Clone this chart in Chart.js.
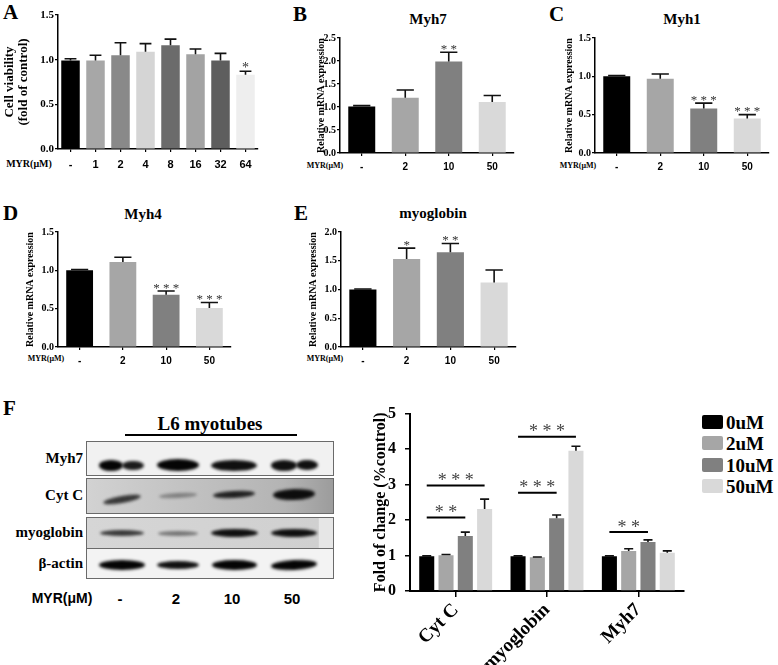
<!DOCTYPE html>
<html>
<head>
<meta charset="utf-8">
<script src="https://cdn.jsdelivr.net/npm/chart.js@4.4.1/dist/chart.umd.min.js"></script>
<style>
    html, body { margin: 0; padding: 0; background: #fff; }
    #lienzo { position: relative; width: 778px; height: 665px; overflow: hidden; background: #fff; }
    canvas { position: absolute; }
    .t { position: absolute; transform: translate(-50%, -50%); white-space: nowrap; font-family: 'Liberation Serif', serif; font-weight: bold; color: #000; line-height: 1; }
    .d { transform: translate(-100%, -50%); }
    .s { font-family: 'Liberation Sans', Arial, sans-serif; }
    .letra { font-size: 21px; transform: none; }
    .fila { position: absolute; left: 86px; width: 246px; border: 1px solid #6a6a6a; overflow: hidden; }
    .banda { position: absolute; border-radius: 50%; background: #050505; filter: blur(1.5px); }
    .leyenda { position: absolute; left: 702px; width: 21px; height: 14px; border-radius: 2px; }
</style>
</head>
<body>
<div id="lienzo">
    <!-- Letras de cada panel -->
    <div class="t letra" style="left:3px; top:2px;">A</div>
    <div class="t letra" style="left:293px; top:4px;">B</div>
    <div class="t letra" style="left:549px; top:4px;">C</div>
    <div class="t letra" style="left:3px; top:203px;">D</div>
    <div class="t letra" style="left:294px; top:203px;">E</div>
    <div class="t letra" style="left:3px; top:398px;">F</div>

    <!-- Títulos de los paneles -->
    <div class="t" style="left:428px; top:19px; font-size:15px;">Myh7</div>
    <div class="t" style="left:682px; top:19px; font-size:15px;">Myh1</div>
    <div class="t" style="left:143px; top:214px; font-size:15px;">Myh4</div>
    <div class="t" style="left:433px; top:213px; font-size:15px;">myoglobin</div>

    <!-- Etiquetas MYR(μM) de los ejes -->
    <div class="t" style="left:29px; top:164px; font-size:10px;">MYR(μM)</div>
    <div class="t" style="left:325px; top:166px; font-size:8px;">MYR(μM)</div>
    <div class="t" style="left:578px; top:166px; font-size:8px;">MYR(μM)</div>
    <div class="t" style="left:46px; top:359px; font-size:8px;">MYR(μM)</div>
    <div class="t" style="left:325px; top:359px; font-size:8px;">MYR(μM)</div>

    <!-- Western blot -->
    <div class="t" style="left:210px; top:423px; font-size:19px;">L6 myotubes</div>
    <div style="position:absolute; left:125px; top:434px; width:172px; height:2px; background:#000;"></div>
    <div id="blot"></div>

    <canvas id="cA" width="262" height="180" style="left:0px; top:0px;"></canvas>
    <canvas id="cB" width="200" height="180" style="left:316px; top:0px;"></canvas>
    <canvas id="cC" width="214" height="180" style="left:564px; top:0px;"></canvas>
    <canvas id="cD" width="209" height="175" style="left:25px; top:200px;"></canvas>
    <canvas id="cE" width="215" height="175" style="left:308px; top:200px;"></canvas>
    <canvas id="cF" width="320" height="270" style="left:370px; top:395px;"></canvas>
    <div id="leyendaF"></div>
</div>

<script>
// Fuentes usadas en la figura.
const SERIF = "'Liberation Serif', 'Times New Roman', serif";
const SANS = "'Liberation Sans', Arial, sans-serif";

// Datos del panel A (viabilidad celular).
const DOSIS_A = ['-', '1', '2', '4', '8', '16', '32', '64'];
const VIABILIDAD = [0.99, 0.99, 1.05, 1.09, 1.16, 1.06, 0.99, 0.83];
const VIABILIDAD_ERR = [0.02, 0.06, 0.14, 0.09, 0.07, 0.06, 0.08, 0.04];
const VIABILIDAD_SIG = ['', '', '', '', '', '', '', '*'];

// Datos de los paneles B a E (expresión relativa de ARNm).
const DOSIS = ['-', '2', '10', '50'];
const MYH7 = [1.01, 1.20, 1.99, 1.11];
const MYH7_ERR = [0.02, 0.17, 0.20, 0.14];
const MYH7_SIG = ['', '', '**', ''];
const MYH1 = [1.00, 0.97, 0.58, 0.45];
const MYH1_ERR = [0.01, 0.06, 0.07, 0.05];
const MYH1_SIG = ['', '', '***', '***'];
const MYH4 = [1.00, 1.11, 0.68, 0.51];
const MYH4_ERR = [0.01, 0.06, 0.05, 0.07];
const MYH4_SIG = ['', '', '***', '***'];
const MIOGLOBINA = [1.00, 1.53, 1.65, 1.12];
const MIOGLOBINA_ERR = [0.01, 0.19, 0.15, 0.22];
const MIOGLOBINA_SIG = ['', '*', '**', ''];

// Datos del panel F (cuantificación del western blot).
const PROTEINAS = ['Cyt C', 'myoglobin', 'Myh7'];
const GRUPOS = ['0uM', '2uM', '10uM', '50uM'];
const F_0 = [0.98, 0.98, 0.98];
const F_0_ERR = [0.01, 0.01, 0.01];
const F_2 = [1.01, 0.95, 1.13];
const F_2_ERR = [0.02, 0.01, 0.06];
const F_10 = [1.55, 2.05, 1.38];
const F_10_ERR = [0.11, 0.09, 0.06];
const F_50 = [2.31, 3.95, 1.08];
const F_50_ERR = [0.28, 0.13, 0.05];
// Comparaciones significativas: categoría, barra inicial, barra final, altura y texto.
const SIG_F_CAT = [0, 0, 1, 1, 2];
const SIG_F_DESDE = [0, 0, 0, 0, 0];
const SIG_F_HASTA = [2, 3, 2, 3, 2];
const SIG_F_NIVEL = [2.07, 2.97, 2.77, 4.35, 1.66];
const SIG_F_TEXTO = ['**', '***', '***', '***', '**'];

// Colores de las barras.
const COLORES_A = ['#000000', '#a7a7a7', '#898989', '#d5d5d5', '#6b6b6b', '#a3a3a3', '#5e5e5e', '#eeeeee'];
const COLORES = ['#000000', '#a6a6a6', '#808080', '#d9d9d9'];

// Complemento para dibujar las barras de error (solo hacia arriba) y los asteriscos.
const barrasError = {
    id: 'barrasError',
    afterDatasetsDraw(chart, args, opts) {
        const ctx = chart.ctx;
        const y = chart.scales.y;
        ctx.save();
        chart.data.datasets.forEach((ds, i) => {
            chart.getDatasetMeta(i).data.forEach((barra, j) => {
                const base = y.getPixelForValue(ds.data[j]);
                const tope = y.getPixelForValue(ds.data[j] + ds.errores[j]);
                const medio = barra.width * opts.tapa;
                ctx.strokeStyle = '#111';
                ctx.lineWidth = 1.6;
                ctx.beginPath();
                ctx.moveTo(barra.x, base);
                ctx.lineTo(barra.x, tope);
                ctx.moveTo(barra.x - medio, tope);
                ctx.lineTo(barra.x + medio, tope);
                ctx.stroke();
                if (ds.sig && ds.sig[j]) {
                    ctx.fillStyle = '#333';
                    ctx.font = `${opts.estrella}px ${SERIF}`;
                    ctx.textAlign = 'center';
                    ctx.textBaseline = 'middle';
                    ctx.fillText(ds.sig[j].split('').join(' '), barra.x, tope - opts.estrella * 0.2);
                }
            });
        });
        ctx.restore();
    }
};

// Complemento para las líneas de comparación del panel F.
const lineasSig = {
    id: 'lineasSig',
    afterDatasetsDraw(chart) {
        const ctx = chart.ctx;
        const y = chart.scales.y;
        ctx.save();
        SIG_F_CAT.forEach((cat, k) => {
            const x1 = chart.getDatasetMeta(SIG_F_DESDE[k]).data[cat].x;
            const x2 = chart.getDatasetMeta(SIG_F_HASTA[k]).data[cat].x;
            const yy = y.getPixelForValue(SIG_F_NIVEL[k]);
            ctx.strokeStyle = '#000';
            ctx.lineWidth = 2;
            ctx.beginPath();
            ctx.moveTo(x1, yy);
            ctx.lineTo(x2, yy);
            ctx.stroke();
            ctx.fillStyle = '#444';
            ctx.font = `18px ${SERIF}`;
            ctx.textAlign = 'center';
            ctx.textBaseline = 'middle';
            ctx.fillText(SIG_F_TEXTO[k].split('').join(' '), (x1 + x2) / 2, yy - 4);
        });
        ctx.restore();
    }
};

// Función para crear un gráfico de barras simple (paneles A a E).
const barraSimple = (id, etiquetas, valores, errores, sig, colores, cfg) => new Chart(document.getElementById(id), {
    type: 'bar',
    data: {
        labels: etiquetas,
        datasets: [{
            data: valores,
            errores: errores,
            sig: sig,
            backgroundColor: colores,
            barPercentage: cfg.bp,
            categoryPercentage: 1
        }]
    },
    options: {
        responsive: false,
        animation: false,
        events: [],
        layout: { padding: { top: cfg.top, right: cfg.right, left: 0, bottom: 0 } },
        plugins: {
            legend: { display: false },
            tooltip: { enabled: false },
            barrasError: { tapa: 0.32, estrella: cfg.estrella }
        },
        scales: {
            x: {
                grid: { display: true, drawOnChartArea: false, drawTicks: true, tickLength: 3, offset: false, color: '#000', lineWidth: 1.2 },
                border: { color: '#000', width: 1.5 },
                ticks: { color: '#000', font: { family: SANS, weight: 'bold', size: cfg.xFuente }, padding: cfg.xPad, maxRotation: 0, minRotation: 0, autoSkip: false },
                afterFit: s => { s.height = cfg.xAlto; }
            },
            y: {
                min: 0,
                max: cfg.max,
                ticks: {
                    stepSize: cfg.paso,
                    color: '#000',
                    padding: 1,
                    font: { family: SERIF, weight: 'bold', size: cfg.yFuente },
                    callback: v => v.toFixed(1)
                },
                grid: { drawOnChartArea: false, drawTicks: true, tickLength: 3, color: '#000', lineWidth: 1.2 },
                border: { color: '#000', width: 1.5 },
                title: {
                    display: true,
                    text: cfg.titulo,
                    color: '#000',
                    padding: { top: cfg.tPad, bottom: 0 },
                    font: { family: SERIF, weight: 'bold', size: cfg.tFuente, lineHeight: 1.1 }
                },
                afterFit: s => { s.width = cfg.yAncho; }
            }
        }
    },
    plugins: [barrasError]
});

// Panel A.
barraSimple('cA', DOSIS_A, VIABILIDAD, VIABILIDAD_ERR, VIABILIDAD_SIG, COLORES_A, {
    top: 15, right: 4, yAncho: 58, xAlto: 31, max: 1.5, paso: 0.5, bp: 0.74,
    xFuente: 11, xPad: 6, yFuente: 11, titulo: ['Cell viability', '(fold of control)'], tFuente: 13, tPad: 2, estrella: 14
});
// Paneles B a E.
const MRNA = { max: 1.5, paso: 0.5, bp: 0.62, xFuente: 10, xPad: 5, yFuente: 10, titulo: 'Relative mRNA expression', tFuente: 10, tPad: 0, estrella: 13 };
barraSimple('cB', DOSIS, MYH7, MYH7_ERR, MYH7_SIG, COLORES, { ...MRNA, top: 38, right: 2, yAncho: 24, xAlto: 27, max: 2.5 });
barraSimple('cC', DOSIS, MYH1, MYH1_ERR, MYH1_SIG, COLORES, { ...MRNA, top: 38, right: 9, yAncho: 31, xAlto: 27 });
barraSimple('cD', DOSIS, MYH4, MYH4_ERR, MYH4_SIG, COLORES, { ...MRNA, top: 32, right: 3, yAncho: 33, xAlto: 28 });
barraSimple('cE', DOSIS, MIOGLOBINA, MIOGLOBINA_ERR, MIOGLOBINA_SIG, COLORES, { ...MRNA, top: 32, right: 7, yAncho: 33, xAlto: 28, max: 2.0 });

// Panel F: barras agrupadas por proteína.
const SERIES_F = [F_0, F_2, F_10, F_50];
const ERRORES_F = [F_0_ERR, F_2_ERR, F_10_ERR, F_50_ERR];
new Chart(document.getElementById('cF'), {
    type: 'bar',
    data: {
        labels: PROTEINAS,
        datasets: GRUPOS.map((g, i) => ({
            label: g,
            data: SERIES_F[i],
            errores: ERRORES_F[i],
            backgroundColor: COLORES[i],
            barPercentage: 0.78,
            categoryPercentage: 0.845
        }))
    },
    options: {
        responsive: false,
        animation: false,
        events: [],
        layout: { padding: { top: 12, right: 6, left: 0, bottom: 0 } },
        plugins: {
            legend: { display: false },
            tooltip: { enabled: false },
            barrasError: { tapa: 0.3, estrella: 16 }
        },
        scales: {
            x: {
                grid: { display: true, drawOnChartArea: false, drawTicks: true, tickLength: 6, offset: false, color: '#000', lineWidth: 1.5 },
                border: { color: '#000', width: 2 },
                ticks: { color: '#000', font: { family: SERIF, weight: 'bold', size: 19 }, padding: 2, maxRotation: 45, minRotation: 45, autoSkip: false },
                afterFit: s => { s.height = 74; }
            },
            y: {
                min: 0,
                max: 5,
                ticks: { stepSize: 1, color: '#000', padding: 9, font: { family: SERIF, weight: 'bold', size: 16 } },
                grid: { drawOnChartArea: false, drawTicks: true, tickLength: 5, color: '#000', lineWidth: 1.5 },
                border: { color: '#000', width: 2 },
                title: {
                    display: true,
                    text: 'Fold of change (%control)',
                    color: '#000',
                    padding: { top: 1, bottom: 0 },
                    font: { family: SERIF, weight: 'bold', size: 16 }
                },
                afterFit: s => { s.width = 40; }
            }
        }
    },
    plugins: [barrasError, lineasSig]
});

// Leyenda del panel F construida con los mismos grupos y colores.
const LEYENDA = document.getElementById('leyendaF');
GRUPOS.forEach((g, i) => {
    const yc = 422 + i * 21.3;
    LEYENDA.insertAdjacentHTML('beforeend',
        `<div class="leyenda" style="top:${yc - 7}px; background:${COLORES[i]};"></div>` +
        `<div class="t" style="left:726px; top:${yc}px; font-size:19px; transform:translate(0,-50%);">${g}</div>`);
});

// Western blot dibujado como imagen decorativa.
const CARRILES = [121, 177, 233, 293];
const CARRILES_ETIQ = ['-', '2', '10', '50'];
const FILAS_BLOT = [
    { nombre: 'Myh7', top: 441, alto: 33, fondo: '#f1f1f1', yb: 23, bandas: [[24, 11, 1, 0, 0, -11], [22, 9, 0.9, 0, 0, 11], [42, 12, 1, 0], [46, 11, 0.95, 0], [26, 11, 0.95, 0, 0, -10], [22, 10, 0.95, 0, 0, 13]] },
    { nombre: 'Cyt C', top: 478, alto: 34, fondo: 'linear-gradient(90deg,#d2d2d2,#c2c2c2 40%,#b4b4b4 80%,#9c9c9c)', yb: 15, bandas: [[38, 7, 0.75, -10, 5], [38, 5, 0.35, -3, 1], [42, 7, 0.85, -3, 0], [42, 11, 0.95, -2, 0]] },
    { nombre: 'myoglobin', top: 517, alto: 30, fondo: 'linear-gradient(90deg,#d6d6d6,#d0d0d0 94%,#e6e6e6 94.5%)', yb: 15, bandas: [[44, 6, 0.75, 0], [40, 5, 0.45, 0], [47, 8, 0.95, 0], [46, 8, 0.95, 0]] },
    { nombre: 'β-actin', top: 548, alto: 29, fondo: '#f3f3f3', yb: 16, bandas: [[46, 10, 1, 0], [42, 8, 0.95, 0], [45, 10, 1, 0], [46, 10, 1, -3]] }
];
// Carril al que pertenece cada banda (Myh7 tiene bandas dobles en los carriles 1 y 4).
const CARRIL_BANDA = [[0, 0, 1, 2, 3, 3], [0, 1, 2, 3], [0, 1, 2, 3], [0, 1, 2, 3]];
const BLOT = document.getElementById('blot');
FILAS_BLOT.forEach((f, k) => {
    let html = `<div class="fila" style="top:${f.top}px; height:${f.alto}px; background:${f.fondo};">`;
    f.bandas.forEach((b, i) => {
        const cx = CARRILES[CARRIL_BANDA[k][i]] - 86 + (b[5] || 0);
        const dy = b[4] || 0;
        html += `<div class="banda" style="left:${cx - b[0] / 2}px; top:${f.yb + dy - b[1] / 2}px; width:${b[0]}px; height:${b[1]}px; opacity:${b[2]}; transform:rotate(${b[3]}deg);"></div>`;
    });
    html += '</div>';
    BLOT.insertAdjacentHTML('beforeend', html);
    BLOT.insertAdjacentHTML('beforeend',
        `<div class="t d" style="left:83px; top:${f.top + f.alto / 2}px; font-size:15px;">${f.nombre}</div>`);
});
BLOT.insertAdjacentHTML('beforeend', `<div class="t s" style="left:62px; top:598px; font-size:14px;">MYR(μM)</div>`);
CARRILES_ETIQ.forEach((e, i) => {
    BLOT.insertAdjacentHTML('beforeend', `<div class="t s" style="left:${CARRILES[i] - 1}px; top:598px; font-size:15px;">${e}</div>`);
});
</script>
</body>
</html>
